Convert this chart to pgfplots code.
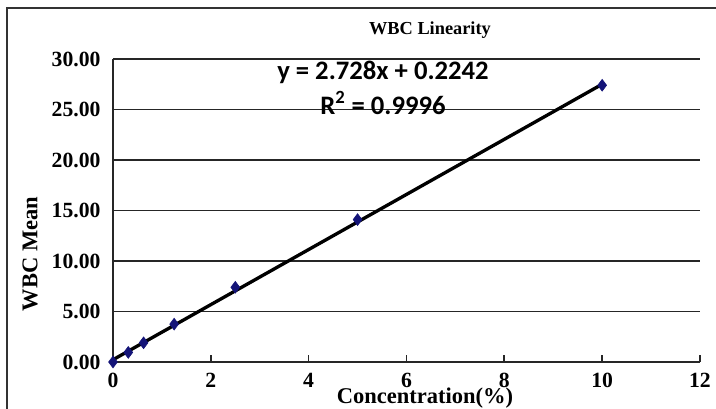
\documentclass[border=0pt]{standalone}
\usepackage{pgfplots}
\pgfplotsset{compat=1.18}
\usepackage{fontspec}
\setmainfont{Liberation Serif}
\newfontfamily\calibri{Carlito}
\definecolor{navy}{RGB}{20,20,120}
\begin{document}
\begin{tikzpicture}
\path[use as bounding box] (-67.8pt,-27.6pt) rectangle (361.8pt,217.2pt);
\begin{axis}[
    at={(0,0)}, anchor=origin,
    scale only axis,
    width=352.2pt, height=181.8pt,
    xmin=0, xmax=12, ymin=0, ymax=30,
    axis x line*=bottom, axis y line*=left,
    axis line style={black!85, line width=1pt, -},
    xtick={0,2,...,12}, ytick={0,5,...,30},
    ymajorgrids, grid style={black!85, line width=1pt},
    x tick style={black!85, line width=1pt},
    xtick align=inside, major tick length=4pt,
    y tick style={draw=none},
    tick label style={font=\fontsize{13}{13}\selectfont\bfseries},
    yticklabel={\pgfmathprintnumber[fixed,fixed zerofill,precision=2]{\tick}},
    /pgf/number format/assume math mode=true,
    xticklabel style={yshift=-3pt},
    yticklabel style={xshift=-4pt},
    clip=false,
]
\addplot[black, line width=2pt] coordinates {(0,0.2242) (10,27.5042)};
\addplot[only marks, mark=diamond*, mark size=3.5pt, navy] coordinates {
    (0,0) (0.3125,0.95) (0.625,1.9) (1.25,3.75) (2.5,7.4) (5,14.1) (10,27.4)
};
\end{axis}
\node[font=\fontsize{11}{11}\selectfont\bfseries] at (190.2pt,199.2pt) {WBC Linearity};
\node[font=\fontsize{13.5}{13.5}\selectfont\bfseries] at (187.2pt,-21.6pt) {Concentration(\%)};
\node[font=\fontsize{13.5}{13.5}\selectfont\bfseries, rotate=90] at (-49.8pt,64.8pt) {WBC Mean};
\node[font=\calibri\fontsize{16}{16}\selectfont\bfseries] at (162pt,174pt) {y = 2.728x + 0.2242};
\node[font=\calibri\fontsize{16}{16}\selectfont\bfseries] at (162pt,155.4pt) {R\textsuperscript{2} = 0.9996};
\draw[line width=1.2pt, black!80] (-63.6pt,-40pt) -- (-63.6pt,212.4pt) -- (380pt,212.4pt);
\end{tikzpicture}
\end{document}
